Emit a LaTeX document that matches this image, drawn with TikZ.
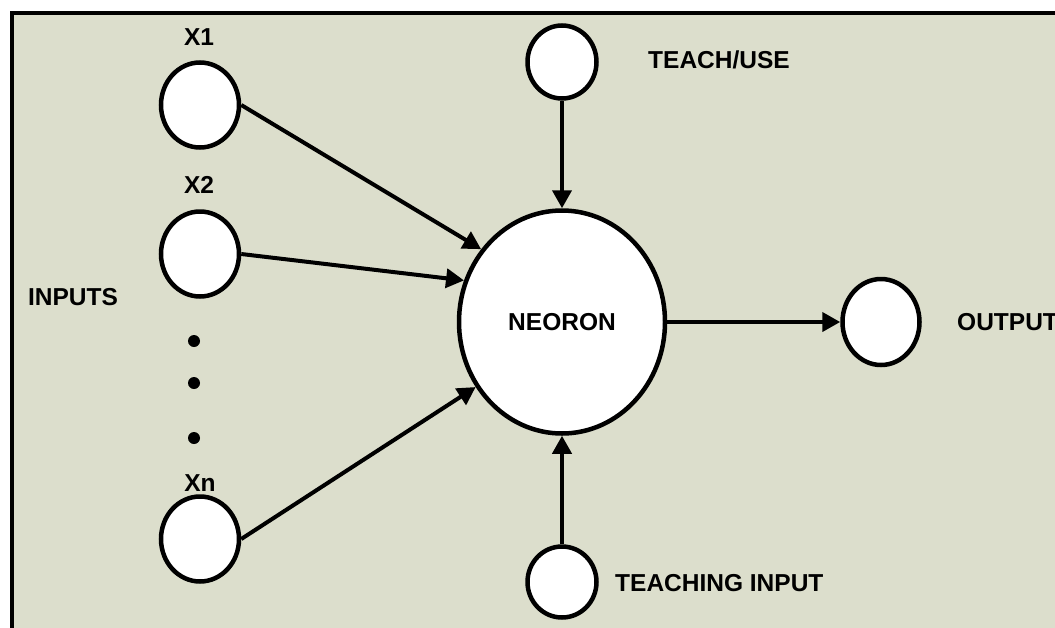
\documentclass[tikz,border=0pt]{standalone}
\usepackage{fontspec}
\setmainfont{Liberation Sans}
\usetikzlibrary{arrows.meta,shapes.geometric}
\definecolor{panel}{RGB}{220,222,204}
\tikzset{
  unit/.style={ellipse, draw=black, fill=white, line width=4.5pt, inner sep=0pt},
  link/.style={line width=4pt, -{Triangle[length=18pt,width=19pt]}},
  lbl/.style={font=\fontsize{24.5}{28}\bfseries\selectfont, inner sep=0pt},
  dot/.style={circle, fill=black, minimum size=12pt, inner sep=0pt}
}
\begin{document}
\begin{tikzpicture}[x=1pt,y=-1pt]
  \useasboundingbox (0,0) rectangle (1055,627);
  \clip (0,0) rectangle (1055,627);
  % panel with its top and left edges
  \fill[panel] (12,13) rectangle (1060,640);
  \draw[line width=4.5pt] (12,640) -- (12,13) -- (1060,13);

  % units
  \node[unit, minimum width=206pt, minimum height=223pt] (nr) at (562,322) {};
  \node[lbl] at (562,322) {NEORON};
  \node[unit, minimum width=78pt, minimum height=85pt] (x1) at (200,105) {};
  \node[unit, minimum width=78pt, minimum height=85pt] (x2) at (200,254) {};
  \node[unit, minimum width=78pt, minimum height=85pt] (xn) at (200,539) {};
  \node[unit, minimum width=69pt, minimum height=73pt] (tu) at (562,62) {};
  \node[unit, minimum width=69pt, minimum height=71pt] (ti) at (562,582) {};
  \node[unit, minimum width=77pt, minimum height=86pt] (out) at (881,322) {};

  % labels
  \node[lbl] (lx1) at (199,37) {X1};
  \node[lbl] (lx2) at (199,185) {X2};
  \node[lbl] (lxn) at (200,483) {Xn};
  \node[lbl] (lin) at (73,297) {INPUTS};
  \node[lbl, anchor=west] (ltu) at (648,60) {TEACH/USE};
  \node[lbl, anchor=west] (lti) at (615,583) {TEACHING INPUT};
  \node[lbl, anchor=west] (lout) at (957,322) {OUTPUT};

  % ellipsis between X2 and Xn
  \node[dot] (d1) at (194,341) {};
  \node[dot] (d2) at (194,383) {};
  \node[dot] (d3) at (194,438) {};

  % connections
  \draw[link] (x1.east) -- (nr.138);
  \draw[link] (x2.east) -- (nr.157);
  \draw[link] (xn.east) -- (nr.217);
  \draw[link] (tu.south) -- (nr.north);
  \draw[link] (ti.north) -- (nr.south);
  \draw[link] (nr.east) -- (out.west);
\end{tikzpicture}
\end{document}
